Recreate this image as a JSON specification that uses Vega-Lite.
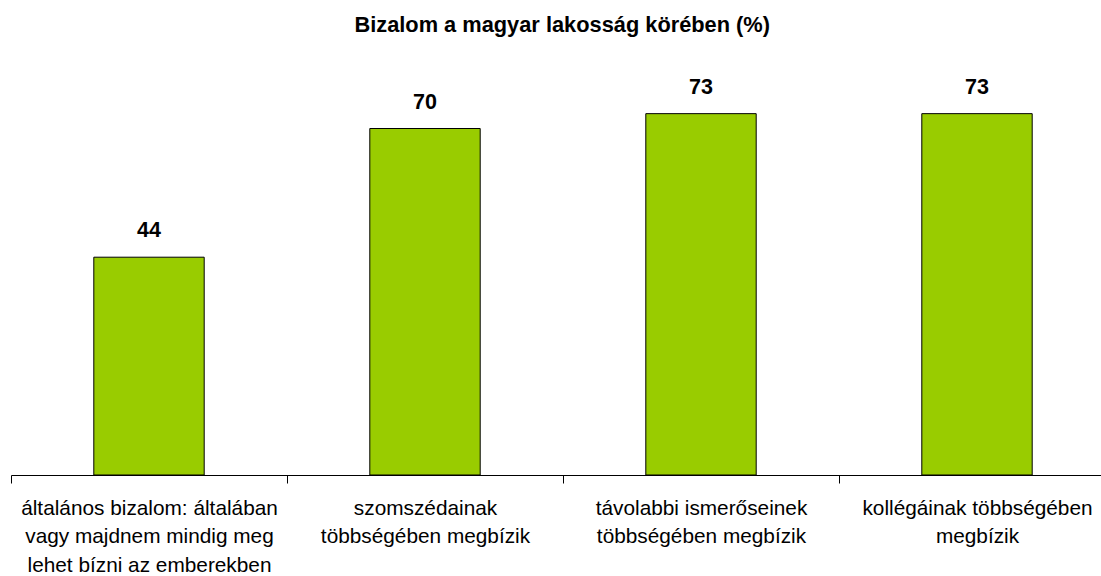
{
  "$schema": "https://vega.github.io/schema/vega-lite/v6.json",
  "autosize": {"type": "none"},
  "width": 1090,
  "height": 396,
  "padding": {"left": 11, "top": 79, "right": 0, "bottom": 101},
  "background": "white",
  "title": {
    "text": "Bizalom a magyar lakosság körében (%)",
    "font": "Liberation Sans",
    "fontSize": 21.8,
    "fontWeight": "bold",
    "color": "black",
    "anchor": "start",
    "dx": 344,
    "offset": 40
  },
  "data": {
    "values": [
      {"kategoria": "általános bizalom: általában|vagy majdnem mindig meg|lehet bízni az emberekben", "ertek": 44},
      {"kategoria": "szomszédainak|többségében megbízik", "ertek": 70},
      {"kategoria": "távolabbi ismerőseinek|többségében megbízik", "ertek": 73},
      {"kategoria": "kollégáinak többségében|megbízik", "ertek": 73}
    ]
  },
  "encoding": {
    "x": {
      "field": "kategoria",
      "type": "nominal",
      "sort": null,
      "scale": {"paddingInner": 0.6, "paddingOuter": 0.3, "range": [0, 1104]},
      "axis": {
        "title": null,
        "labelAngle": 0,
        "labelExpr": "split(datum.label, '|')",
        "labelFont": "Liberation Sans",
        "labelFontSize": 20.8,
        "labelColor": "black",
        "labelLineHeight": 28.5,
        "labelPadding": 15,
        "labelLimit": 400,
        "labelOverlap": false,
        "ticks": true,
        "tickOffset": -138,
        "labelOffset": 138,
        "tickSize": 8,
        "tickWidth": 1,
        "tickColor": "black",
        "domainColor": "black",
        "grid": false
      }
    },
    "y": {
      "field": "ertek",
      "type": "quantitative",
      "scale": {"domain": [0, 80]},
      "axis": null
    }
  },
  "layer": [
    {
      "mark": {"type": "bar", "color": "#99CC00", "stroke": "black", "strokeWidth": 1}
    },
    {
      "mark": {"type": "text", "baseline": "bottom", "dy": -15, "font": "Liberation Sans", "fontSize": 21.5, "fontWeight": "bold", "color": "black"},
      "encoding": {"text": {"field": "ertek", "type": "quantitative"}}
    }
  ],
  "config": {"view": {"stroke": null}}
}
